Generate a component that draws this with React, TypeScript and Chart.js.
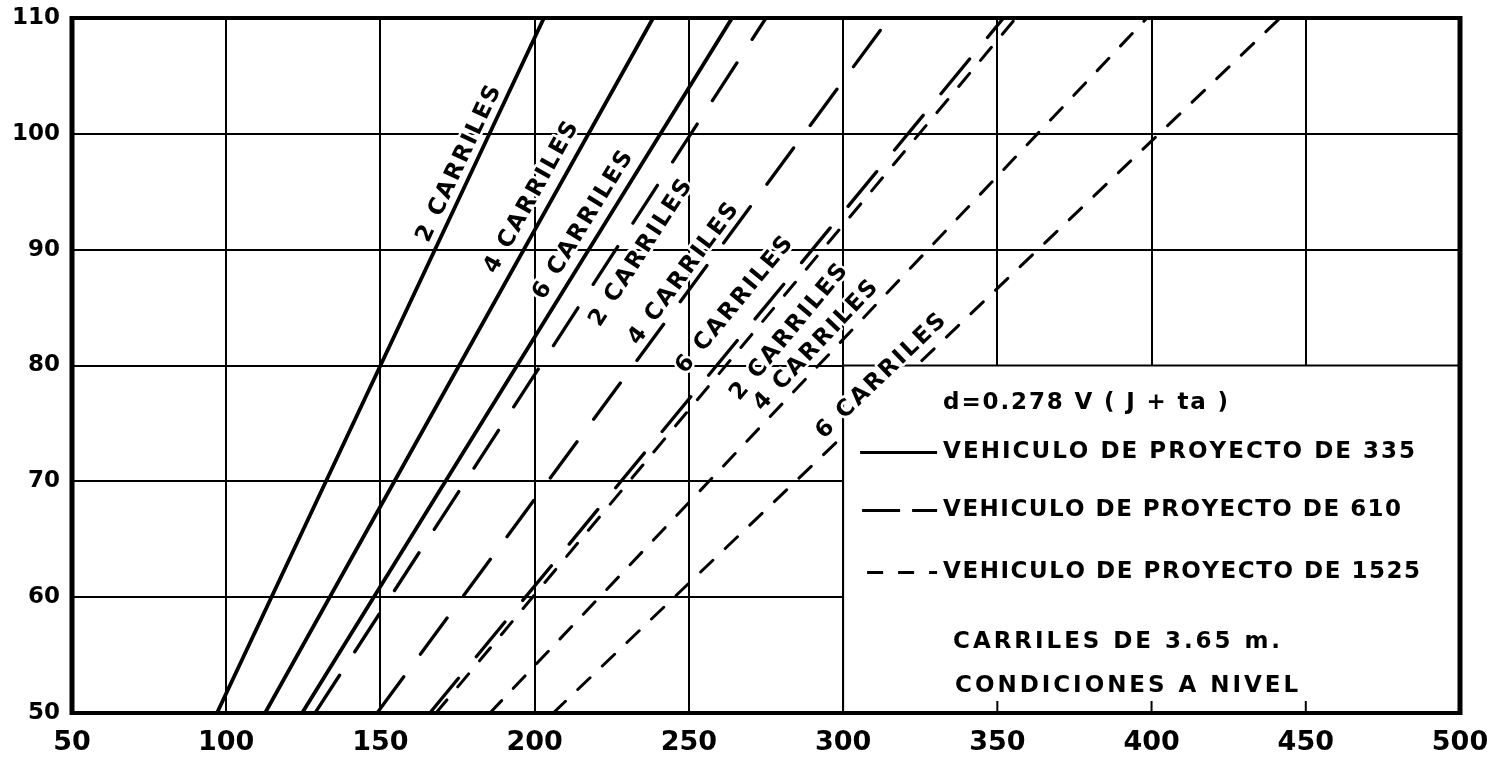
import React, { useEffect, useRef } from 'react';
import { Chart, registerables } from 'chart.js';

Chart.register(...registerables);

// ---- data ----
const speedRange = [50, 110]; // V (km/h) at line ends
const xTickValues = [50, 100, 150, 200, 250, 300, 350, 400, 450, 500];
const yTickValues = [50, 60, 70, 80, 90, 100, 110];
const laneNames = ['2 CARRILES', '4 CARRILES', '6 CARRILES'];
// distance (x) at V=50 and V=110 for 2, 4, 6 lanes
const dist335 = [[97, 203], [112.6, 238.4], [124.6, 264]];
const dist610 = [[128.8, 275], [148.9, 315], [166, 352]];
const dist1525 = [[168, 356], [185.5, 398.5], [206, 441.7]];
const formulaText = 'd=0.278 V ( J + ta )';
const vehicleLegend = [
  'VEHICULO DE PROYECTO DE 335',
  'VEHICULO DE PROYECTO DE 610',
  'VEHICULO DE PROYECTO DE 1525',
];
const noteLines = ['CARRILES DE 3.65 m.', 'CONDICIONES A NIVEL'];

// ---- layout / style (not data) ----
const labelAnchor335 = [[175.5, 97.4], [199, 94.5], [215.7, 92.1]];
const labelAnchor610 = [[234.5, 89.7], [248.3, 87.9], [264.8, 85.2]];
const labelAnchor1525 = [[282.5, 82.85], [291.2, 81.7], [312.3, 79.05]];
const dashStyles = [[], [45, 28], [17, 17]];
const lineWidths = [3.8, 3.3, 3];
const boxCorner = [300, 80];

function drawFitted(ctx: CanvasRenderingContext2D, text: string, x: number, y: number, width: number, center: boolean, halo: boolean) {
  const chars = Array.from(text);
  const ws = chars.map((c) => ctx.measureText(c).width);
  const total = ws.reduce((a, b) => a + b, 0);
  const gap = chars.length > 1 ? (width - total) / (chars.length - 1) : 0;
  let cx = center ? x - width / 2 : x;
  chars.forEach((c, i) => {
    if (halo) {
      ctx.save();
      ctx.strokeStyle = '#fff';
      ctx.lineWidth = 5;
      ctx.lineJoin = 'round';
      ctx.strokeText(c, cx, y);
      ctx.restore();
    }
    ctx.fillText(c, cx, y);
    cx += ws[i] + gap;
  });
}

const overlayPlugin = {
  id: 'overlay',
  afterDatasetsDraw(chart: any) {
    const { ctx, chartArea, scales } = chart;
    const xs = scales.x;
    const ys = scales.y;
    const bx = xs.getPixelForValue(boxCorner[0]);
    const by = ys.getPixelForValue(boxCorner[1]);
    ctx.save();
    // legend box
    ctx.fillStyle = '#fff';
    ctx.fillRect(bx, by, chartArea.right - bx, chartArea.bottom - by);
    ctx.strokeStyle = '#000';
    ctx.lineWidth = 2;
    ctx.beginPath();
    ctx.moveTo(bx, by);
    ctx.lineTo(bx, chartArea.bottom);
    ctx.moveTo(bx, by);
    ctx.lineTo(chartArea.right, by);
    [350, 400, 450].forEach((v) => {
      const px = xs.getPixelForValue(v);
      ctx.moveTo(px, chartArea.bottom);
      ctx.lineTo(px, chartArea.bottom - 12);
    });
    ctx.stroke();

    // legend content
    ctx.fillStyle = '#000';
    ctx.textBaseline = 'middle';
    ctx.textAlign = 'left';
    ctx.font = 'bold 23px "DejaVu Sans"';
    drawFitted(ctx, formulaText, bx + 100, by + 38, 285, false, false);
    const rowY = [by + 87, by + 145, by + 207];
    const textW = [472, 458, 477];
    const sampleStart = [bx + 17, bx + 19, bx + 24];
    rowY.forEach((ry, i) => {
      ctx.save();
      ctx.lineWidth = 3;
      ctx.setLineDash(i === 0 ? [] : i === 1 ? [38, 12] : [16, 15]);
      ctx.beginPath();
      ctx.moveTo(sampleStart[i], ry);
      ctx.lineTo(bx + 94, ry);
      ctx.stroke();
      ctx.restore();
      drawFitted(ctx, vehicleLegend[i], bx + 100, ry, textW[i], false, false);
    });
    drawFitted(ctx, noteLines[0], bx + 110, by + 277, 327, false, false);
    drawFitted(ctx, noteLines[1], bx + 112, by + 321, 343, false, false);

    // frame
    ctx.lineWidth = 4;
    ctx.strokeRect(chartArea.left, chartArea.top, chartArea.right - chartArea.left, chartArea.bottom - chartArea.top);
    ctx.lineWidth = 5;
    ctx.beginPath();
    ctx.moveTo(chartArea.left, chartArea.top - 2);
    ctx.lineTo(chartArea.left, chartArea.bottom + 2);
    ctx.moveTo(chartArea.right, chartArea.top - 2);
    ctx.lineTo(chartArea.right, chartArea.bottom + 2);
    ctx.stroke();

    // rotated lane labels
    const groups = [dist335, dist610, dist1525];
    const anchors = [labelAnchor335, labelAnchor610, labelAnchor1525];
    ctx.font = 'bold 23px "DejaVu Sans"';
    groups.forEach((g, gi) => {
      g.forEach((d, li) => {
        const x0 = xs.getPixelForValue(d[0]);
        const y0 = ys.getPixelForValue(speedRange[0]);
        const x1 = xs.getPixelForValue(d[1]);
        const y1 = ys.getPixelForValue(speedRange[1]);
        const ang = Math.atan2(y1 - y0, x1 - x0);
        const a = anchors[gi][li];
        ctx.save();
        ctx.translate(xs.getPixelForValue(a[0]), ys.getPixelForValue(a[1]));
        ctx.rotate(ang);
        drawFitted(ctx, laneNames[li], 0, 0, 170, true, true);
        ctx.restore();
      });
    });
    ctx.restore();
  },
};

export default function App() {
  const ref = useRef<HTMLCanvasElement>(null);
  useEffect(() => {
    document.body.style.margin = '0';
    const groups = [dist335, dist610, dist1525];
    const datasets: any[] = [];
    groups.forEach((g, gi) => {
      g.forEach((d, li) => {
        datasets.push({
          label: `${vehicleLegend[gi]} ${laneNames[li]}`,
          data: [
            { x: d[0], y: speedRange[0] },
            { x: d[1], y: speedRange[1] },
          ],
          showLine: true,
          borderColor: '#000',
          backgroundColor: '#000',
          borderWidth: lineWidths[gi],
          borderDash: dashStyles[gi],
          pointRadius: 0,
          borderCapStyle: 'round',
        });
      });
    });
    const chart = new Chart(ref.current as HTMLCanvasElement, {
      type: 'scatter',
      data: { datasets },
      plugins: [overlayPlugin],
      options: {
        animation: false,
        responsive: false,
        devicePixelRatio: 1,
        layout: { padding: { top: 18, right: 37, left: 0, bottom: 0 } },
        plugins: { legend: { display: false }, tooltip: { enabled: false } },
        scales: {
          x: {
            type: 'linear',
            min: 50,
            max: 500,
            afterBuildTicks: (s: any) => { s.ticks = xTickValues.map((v) => ({ value: v })); },
            afterFit: (s: any) => { s.height = 51; s.paddingLeft = 0; s.paddingRight = 0; },
            grid: { color: '#000', lineWidth: 2, drawTicks: false },
            border: { display: false },
            ticks: {
              color: '#000',
              padding: 14,
              maxRotation: 0,
              font: { family: '"DejaVu Sans"', weight: 'bold', size: 27 },
            },
          },
          y: {
            type: 'linear',
            min: 50,
            max: 110,
            afterBuildTicks: (s: any) => { s.ticks = yTickValues.map((v) => ({ value: v })); },
            afterFit: (s: any) => { s.width = 72; s.paddingTop = 0; s.paddingBottom = 0; },
            grid: { color: '#000', lineWidth: 2, drawTicks: false },
            border: { display: false },
            ticks: {
              color: '#000',
              padding: 12,
              font: { family: '"DejaVu Sans"', weight: 'bold', size: 23 },
            },
          },
        },
      } as any,
    });
    return () => chart.destroy();
  }, []);
  return (
    <div style={{ width: 1497, height: 764, background: '#fff' }}>
      <canvas ref={ref} width={1497} height={764} style={{ display: 'block' }} />
    </div>
  );
}
